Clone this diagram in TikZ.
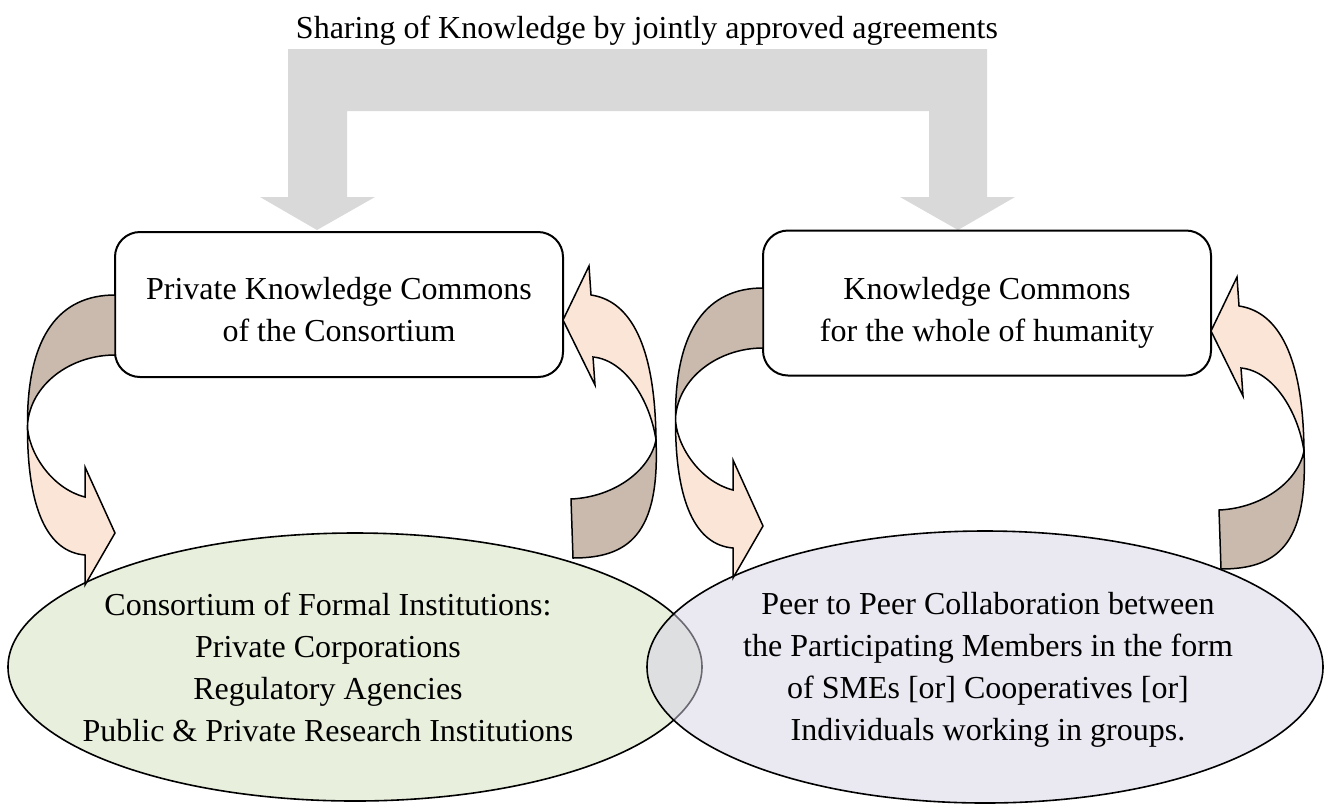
\documentclass[tikz,border=0pt]{standalone}
\usepackage{fontspec}
\setmainfont{Liberation Serif}
\usetikzlibrary{shapes.geometric}

\definecolor{sharegray}{RGB}{217,217,217}
\definecolor{bandback}{RGB}{201,186,173}
\definecolor{bandfront}{RGB}{251,229,214}
\definecolor{formalfill}{RGB}{232,239,220}
\definecolor{peerfill}{RGB}{213,209,228}

\tikzset{
  % curved arrow leaving a box on its left side and turning down-right
  loopdown/.pic={
    \filldraw[fill=bandback,draw=black,line width=0.75pt]
      (115,295) .. controls (60,295) and (27,335) .. (27.5,425)
      .. controls (30,385) and (70,355) .. (115,355) -- cycle;
    \filldraw[fill=bandfront,draw=black,line width=0.75pt]
      (27.5,425) .. controls (27,510) and (48,552) .. (85,555)
      -- (85,585) -- (115,533) -- (85,467) -- (85,497)
      .. controls (50,488) and (27.5,450) .. (27.5,425) -- cycle;
  },
  % curved arrow rising on the right side and pointing back into a box
  loopup/.pic={
    \filldraw[fill=bandfront,draw=black,line width=0.75pt]
      (563,320) -- (589,266) -- (591,295)
      .. controls (625,300) and (655,335) .. (656,440)
      .. controls (650,400) and (625,360) .. (593,357)
      -- (595,385) -- cycle;
    \filldraw[fill=bandback,draw=black,line width=0.75pt]
      (656,440) .. controls (660,535) and (628,558) .. (573,558)
      -- (571,499) .. controls (615,497) and (650,470) .. (656,440) -- cycle;
  }
}

\begin{document}
\begin{tikzpicture}[x=0.5pt,y=-0.5pt,
  every node/.style={font=\fontsize{16}{21}\selectfont},
  commons/.style={draw,line width=1pt,rounded corners=12.5pt,fill=white,
    minimum width=224pt,minimum height=72.5pt,inner sep=0pt},
  group/.style={ellipse,draw,line width=0.8pt,inner sep=0pt},
  label/.style={align=center,inner sep=0pt}]

\useasboundingbox (0,0) rectangle (1327,804);

% title
\node[anchor=base] (title) at (647,38)
  {Sharing of Knowledge by jointly approved agreements};

% broad grey arrow splitting towards both commons
\fill[sharegray] (288,49) -- (987,49) -- (987,197) -- (1015,197) -- (958,230)
  -- (900,197) -- (929,197) -- (929,111) -- (347,111) -- (347,197)
  -- (375,197) -- (317,230) -- (260,197) -- (288,197) -- cycle;

% the two commons
\node[commons] (pkc) at (339,304.5) {};
\node[commons] (kch) at (987,303) {};
\node[label] (pkctext) at (339,310) {Private Knowledge Commons\\of the Consortium};
\node[label] (kchtext) at (987,313) {Knowledge Commons\\for the whole of humanity};

% the two groups of participants
\node[group,fill=formalfill,minimum width=347pt,minimum height=134pt] (formal) at (355,667) {};
\node[group,fill=peerfill,fill opacity=0.5,minimum width=338pt,minimum height=136pt] (peer) at (985,667) {};

\node[label] (formaltext) at (328,667)
  {Consortium of Formal Institutions:\\Private Corporations\\Regulatory Agencies\\Public \& Private Research Institutions};
\node[label] (peertext) at (988,670)
  {Peer to Peer Collaboration between\\the Participating Members in the form\\of SMEs [or] Cooperatives [or]\\Individuals working in groups.};

% exchange loops between each commons and its group
\pic (loopA) at (0,0) {loopdown};
\pic (loopB) at (0,0) {loopup};
\pic (loopC) at (648,-7) {loopdown};
\pic (loopD) at (648,11) {loopup};

\end{tikzpicture}
\end{document}
